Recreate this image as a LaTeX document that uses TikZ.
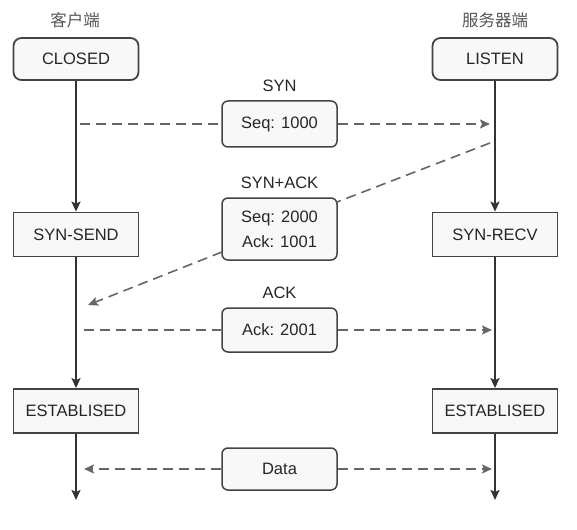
\documentclass[tikz,border=0pt]{standalone}
\usepackage{fontspec}
\setmainfont{Liberation Sans}
\newfontfamily\cjk{Noto Sans CJK SC}
\usetikzlibrary{arrows.meta}
\definecolor{boxfill}{HTML}{F8F8F8}
\definecolor{boxline}{HTML}{444444}
\definecolor{solidline}{HTML}{333333}
\definecolor{dashline}{HTML}{666666}
\definecolor{headtext}{HTML}{555555}
\tikzset{
  stbox/.style={draw=boxline, line width=1.8pt, fill=boxfill, minimum width=125pt, minimum height=44pt, inner sep=0pt, font=\fontsize{16.5}{19}\selectfont, text=black!85},
  rbox/.style={stbox, rounded corners=8pt, minimum height=42pt},
  msgbox/.style={draw=boxline, line width=1.5pt, fill=boxfill, rounded corners=6pt, minimum width=115pt, inner sep=0pt, font=\fontsize{16.5}{19}\selectfont, text=black!85, align=center},
  lbl/.style={font=\fontsize{16.5}{19}\selectfont, text=black!85},
  head/.style={font=\cjk\fontsize{16.5}{19}\selectfont, text=headtext},
  flow/.style={draw=solidline, line width=1.8pt, -{Stealth[length=10pt,width=9pt,inset=2pt]}},
  msg/.style={draw=dashline, line width=1.6pt, dash pattern=on 10pt off 6pt},
  msgarrow/.style={msg, -{Stealth[length=10pt,width=9pt,inset=2pt]}},
}
\begin{document}
\begin{tikzpicture}[x=1pt,y=-1pt]
\useasboundingbox (0,0) rectangle (577,529);
% headers
\node[head] (hc) at (75,20) {客户端};
\node[head] (hs) at (495,20) {服务器端};
% state boxes
\node[rbox] (closed) at (76,59) {CLOSED};
\node[rbox] (listen) at (495,59) {LISTEN};
\node[stbox] (synsend) at (76,234.5) {SYN-SEND};
\node[stbox] (synrecv) at (495,234.5) {SYN-RECV};
\node[stbox] (estl) at (76,411) {ESTABLISED};
\node[stbox] (estr) at (495,411) {ESTABLISED};
% end coordinates
\coordinate (endl) at (76,500);
\coordinate (endr) at (495,500);
% vertical flows
\draw[flow] (closed.south) -- (synsend.north);
\draw[flow] (synsend.south) -- (estl.north);
\draw[flow] (estl.south) -- (endl);
\draw[flow] (listen.south) -- (synrecv.north);
\draw[flow] (synrecv.south) -- (estr.north);
\draw[flow] (estr.south) -- (endr);
% messages
\node[msgbox, minimum height=46pt] (syn) at (279.5,124) {Seq: 1000};
\node[lbl] (synl) at (279.5,86) {SYN};
\node[msgbox, minimum height=62pt] (synack) at (279.5,229) {Seq: 2000\\[6pt]Ack: 1001};
\node[lbl] (synackl) at (279.5,183) {SYN+ACK};
\node[msgbox, minimum height=44pt] (ack) at (279.5,330) {Ack: 2001};
\node[lbl] (ackl) at (279.5,293) {ACK};
\node[msgbox, minimum height=42pt] (data) at (279.5,469) {Data};
% message coordinates
\coordinate (s1) at (80,124);
\coordinate (s2) at (490,124);
\coordinate (a1) at (490,143);
\coordinate (a2) at (88,305);
\coordinate (k1) at (84,330);
\coordinate (k2) at (492,330);
\coordinate (d1) at (84,469);
\coordinate (d2) at (492,469);
\coordinate (ae) at (337,202);
\coordinate (aw) at (222,252);
% dashed messages
\draw[msg] (s1) -- (syn.west);
\draw[msgarrow] (syn.east) -- (s2);
\draw[msg] (a1) -- (ae);
\draw[msgarrow] (aw) -- (a2);
\draw[msg] (k1) -- (ack.west);
\draw[msgarrow] (ack.east) -- (k2);
\draw[msgarrow] (data.west) -- (d1);
\draw[msgarrow] (data.east) -- (d2);
\end{tikzpicture}
\end{document}
